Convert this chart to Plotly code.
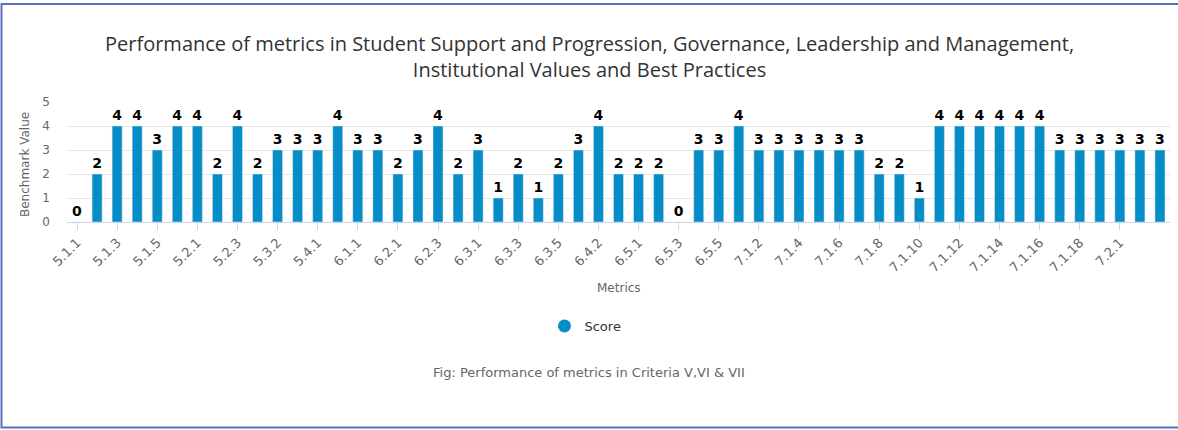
import plotly.graph_objects as go

categories = [
    "5.1.1", "5.1.2", "5.1.3", "5.1.4", "5.1.5", "5.1.6", "5.2.1", "5.2.2", "5.2.3",
    "5.3.1", "5.3.2", "5.3.3", "5.4.1", "5.4.2",
    "6.1.1", "6.1.2", "6.2.1", "6.2.2", "6.2.3", "6.2.4", "6.3.1", "6.3.2", "6.3.3",
    "6.3.4", "6.3.5", "6.4.1", "6.4.2", "6.4.3", "6.5.1", "6.5.2", "6.5.3", "6.5.4", "6.5.5",
    "7.1.1", "7.1.2", "7.1.3", "7.1.4", "7.1.5", "7.1.6", "7.1.7", "7.1.8", "7.1.9", "7.1.10",
    "7.1.11", "7.1.12", "7.1.13", "7.1.14", "7.1.15", "7.1.16", "7.1.17", "7.1.18", "7.1.19",
    "7.2.1", "7.2.2", "7.3.1",
]
scores = [
    0, 2, 4, 4, 3, 4, 4, 2, 4,
    2, 3, 3, 3, 4,
    3, 3, 2, 3, 4, 2, 3, 1, 2,
    1, 2, 3, 4, 2, 2, 2, 0, 3, 3,
    4, 3, 3, 3, 3, 3, 3, 2, 2, 1,
    4, 4, 4, 4, 4, 4, 3, 3, 3,
    3, 3, 3,
]
tick_labels = categories[0:53:2]
series_name = "Score"
title_text = ("Performance of metrics in Student Support and Progression, Governance, Leadership and Management,"
              "<br>Institutional Values and Best Practices")
caption = "Fig: Performance of metrics in Criteria V,VI & VII"

W, H = 1178, 430
L, R, T, B = 67, 8, 102, 208
PW, PH = W - L - R, H - T - B

def px_x(px):
    return (px - L) / PW

def px_y(py):
    return (H - B - py) / PH

BAR = "#058DC7"
FONT = "DejaVu Sans"

fig = go.Figure()
fig.add_trace(go.Bar(
    x=categories, y=scores, name=series_name, marker_color=BAR,
    texttemplate="%{y}", textposition="outside", constraintext="none",
    textfont=dict(family=FONT, size=14, color="#000000", weight="bold"),
    cliponaxis=False, showlegend=False,
))
fig.add_trace(go.Scatter(
    x=[None], y=[None], mode="markers", name=series_name,
    marker=dict(symbol="circle", size=13, color=BAR), showlegend=True,
))

fig.update_layout(
    width=W, height=H,
    margin=dict(l=L, r=R, t=T, b=B),
    paper_bgcolor="white", plot_bgcolor="white",
    bargap=0.5,
    legend=dict(orientation="h", x=0.497, xanchor="center", xref="container",
                y=1 - 326 / H, yanchor="middle", yref="container",
                font=dict(family=FONT, size=13, color="#333333")),
    font=dict(family=FONT),
)
fig.update_xaxes(
    type="category", categoryorder="array", categoryarray=categories,
    tickmode="array", tickvals=tick_labels, ticktext=tick_labels,
    tickangle=-45, ticks="outside", ticklen=7, tickcolor="#ccd6eb",
    showline=True, linecolor="#ccd6eb", linewidth=1, showgrid=False,
    tickfont=dict(family=FONT, size=13, color="#666666"),
)
fig.update_yaxes(
    range=[0, 5], tickvals=[0, 1, 2, 3, 4, 5], showgrid=True, gridcolor="#e6e6e6",
    zeroline=False, ticks="", ticklabelstandoff=16,
    tickfont=dict(family=FONT, size=12, color="#666666"),
)

fig.add_annotation(text=title_text, showarrow=False,
                   xref="paper", yref="paper", x=px_x(W / 2), y=px_y(56),
                   xanchor="center", yanchor="middle", align="center",
                   font=dict(family="Open Sans", size=20, color="#333333"))

fig.add_annotation(text="Benchmark Value", textangle=-90, showarrow=False,
                   xref="paper", yref="paper", x=px_x(25), y=px_y(165),
                   xanchor="center", yanchor="middle",
                   font=dict(family=FONT, size=12, color="#666666"))
fig.add_annotation(text="Metrics", showarrow=False,
                   xref="paper", yref="paper", x=0.5, y=px_y(288),
                   xanchor="center", yanchor="middle",
                   font=dict(family=FONT, size=12, color="#666666"))
fig.add_annotation(text=caption, showarrow=False,
                   xref="paper", yref="paper", x=px_x(W / 2), y=px_y(372),
                   xanchor="center", yanchor="middle",
                   font=dict(family=FONT, size=13, color="#666666"))

fig.add_shape(type="rect", xref="paper", yref="paper",
              x0=px_x(1.5), x1=px_x(W + 5), y0=px_y(427.5), y1=px_y(4),
              line=dict(color="#5b70bf", width=2), fillcolor="rgba(0,0,0,0)")

fig.write_html("out.html", config={"displayModeBar": False},
               post_script="document.body.style.margin='0';document.body.style.padding='0';")
